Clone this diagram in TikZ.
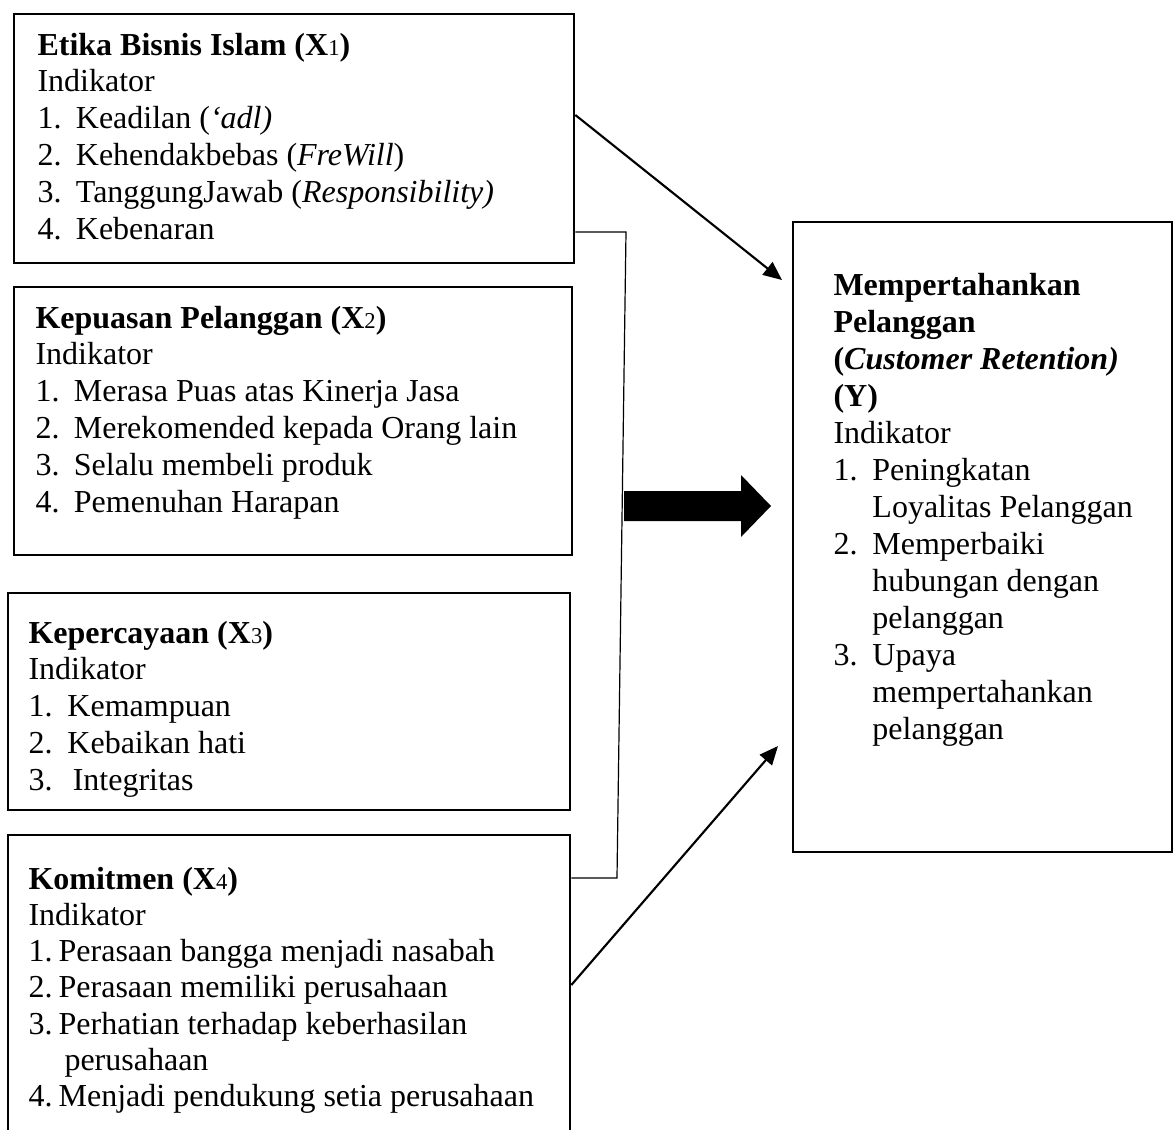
\documentclass[tikz,border=0pt]{standalone}
\usepackage{fontspec}
\setmainfont{Liberation Serif}
\usetikzlibrary{arrows.meta,fit}
\newcommand\xsub[1]{{\mdseries\fontsize{8.5}{8.5}\selectfont #1}}
\newcommand\itm[2][14.4pt]{\makebox[#1][l]{#2}}
\newcommand\lns[1]{\begin{tabular}[t]{@{}l@{}}#1\end{tabular}}
\begin{document}
\begin{tikzpicture}[x=0.375pt,y=-0.375pt,
  box/.style={draw, line width=1pt, inner sep=0pt},
  txt/.style={anchor=base west, inner sep=0pt, font=\fontsize{12}{13.8}\selectfont},
  arr/.style={line width=0.8pt, -{Triangle[length=7pt,width=6pt]}},
  bracket/.style={line width=0.45pt}]
\useasboundingbox (0,0) rectangle (1174,1130);
\clip (0,0) rectangle (1174,1130);
% boxes
\node[box, fit={(14,14)(574,263)}] (b1) {};
\node[box, fit={(14,287)(572,555)}] (b2) {};
\node[box, fit={(8,593)(570,810)}] (b3) {};
\node[box, fit={(8,835)(570,1160)}] (b4) {};
\node[box, fit={(793,222)(1172,852)}] (by) {};
% texts
\node[txt] (t1) at (37,55) {\lns{\textbf{Etika Bisnis Islam (X\xsub{1})}\\
Indikator\\
\itm{1.}Keadilan (\textit{‘adl)}\\
\itm{2.}Kehendakbebas (\textit{FreWill})\\
\itm{3.}TanggungJawab (\textit{Responsibility)}\\
\itm{4.}Kebenaran}};
\node[txt] (t2) at (35,328) {\lns{\textbf{Kepuasan Pelanggan (X\xsub{2})}\\
Indikator\\
\itm{1.}Merasa Puas atas Kinerja Jasa\\
\itm{2.}Merekomended kepada Orang lain\\
\itm{3.}Selalu membeli produk\\
\itm{4.}Pemenuhan Harapan}};
\node[txt] (t3) at (28,643) {\lns{\textbf{Kepercayaan (X\xsub{3})}\\
Indikator\\
\itm[14.6pt]{1.}Kemampuan\\
\itm[14.6pt]{2.}Kebaikan hati\\
\itm[14.6pt]{3.}\,Integritas}};
\node[txt, font=\fontsize{12}{13.6}\selectfont] (t4) at (28,889) {\lns{\textbf{Komitmen (X\xsub{4})}\\
Indikator\\
\itm[11.3pt]{1.}Perasaan bangga menjadi nasabah\\
\itm[11.3pt]{2.}Perasaan memiliki perusahaan\\
\itm[11.3pt]{3.}Perhatian terhadap keberhasilan\\
\hspace*{13.5pt}perusahaan\\
\itm[11.3pt]{4.}Menjadi pendukung setia perusahaan}};
\node[txt, font=\fontsize{12}{13.9}\selectfont] (ty) at (833,295) {\lns{\textbf{Mempertahankan}\\
\textbf{Pelanggan}\\
\textbf{(\textit{Customer Retention)}}\\
\textbf{(Y)}\\
Indikator\\
\itm[14.6pt]{1.}Peningkatan\\
\itm[14.6pt]{}Loyalitas Pelanggan\\
\itm[14.6pt]{2.}Memperbaiki\\
\itm[14.6pt]{}hubungan dengan\\
\itm[14.6pt]{}pelanggan\\
\itm[14.6pt]{3.}Upaya\\
\itm[14.6pt]{}mempertahankan\\
\itm[14.6pt]{}pelanggan}};
% free ends
\coordinate (e1) at (782,280);
\coordinate (e4) at (778,746);
\coordinate (k1) at (626,232);
\coordinate (k2) at (617,878);
% connectors
\draw[arr] (b1.east |- 0,115) -- (e1);
\draw[arr] (b4.east |- 0,985) -- (e4);
\draw[bracket] (b1.east |- 0,232) -- (k1) -- (k2) -- (b4.east |- 0,878);
% block arrow
\fill (624,491) -- (741,491) -- (741,475) -- (771,506) -- (741,537) -- (741,521) -- (624,521) -- cycle;
\end{tikzpicture}
\end{document}
